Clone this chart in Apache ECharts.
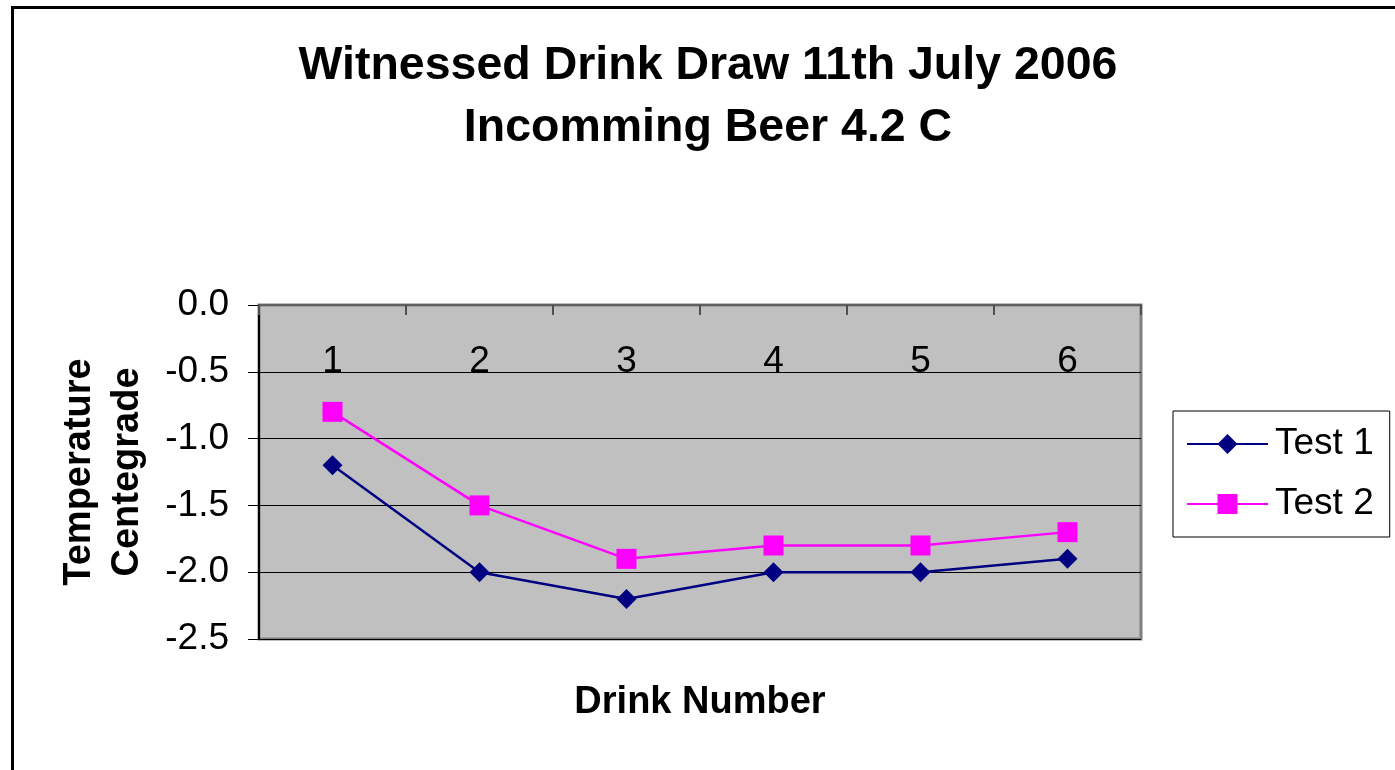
<!DOCTYPE html>
<html>
<head>
<meta charset="utf-8">
<title>Witnessed Drink Draw</title>
<script src="https://cdn.jsdelivr.net/npm/echarts@6/dist/echarts.min.js"></script>
<style>
  html, body { margin: 0; padding: 0; background: #fff; }
  #main { width: 1395px; height: 770px; }
</style>
</head>
<body>
<div id="main"></div>
<script>
// drink numbers along the top axis
var drinks = ['1', '2', '3', '4', '5', '6']
// temperatures, degrees C
var test1 = [-1.2, -2.0, -2.2, -2.0, -2.0, -1.9]
var test2 = [-0.8, -1.5, -1.9, -1.8, -1.8, -1.7]

var FONT = '"Liberation Sans", Arial, sans-serif'

var myChart = echarts.init(document.getElementById('main'))

var option = {
  backgroundColor: '#fff',
  animation: false,
  title: {
    text: 'Witnessed Drink Draw 11th July 2006\nIncomming Beer 4.2 C',
    left: 708,
    top: 35,
    padding: 0,
    textAlign: 'center',
    textStyle: {
      fontFamily: FONT,
      fontWeight: 'bold',
      fontSize: 46.5,
      lineHeight: 62,
      color: '#000'
    }
  },
  legend: {
    orient: 'vertical',
    left: 1173,
    top: 411,
    padding: [13, 16, 13, 13],
    borderColor: '#000',
    borderWidth: 1,
    itemWidth: 81,
    itemHeight: 25,
    itemGap: 20,
    textStyle: {
      fontFamily: FONT,
      fontSize: 37,
      lineHeight: 40,
      color: '#000',
      padding: [0, 0, 0, 2]
    },
    data: ['Test 1', 'Test 2']
  },
  grid: {
    left: 259,
    top: 305,
    width: 882,
    height: 334,
    show: true,
    backgroundColor: '#c0c0c0',
    borderColor: '#808080',
    borderWidth: 3
  },
  xAxis: {
    type: 'category',
    position: 'top',
    data: drinks,
    boundaryGap: true,
    axisLine: { show: true, lineStyle: { color: '#606060', width: 2 } },
    axisTick: { show: true, inside: true, length: 10, lineStyle: { color: '#505050', width: 2 } },
    axisLabel: {
      inside: true,
      margin: 38,
      fontFamily: FONT,
      fontSize: 37,
      color: '#000'
    },
    splitLine: { show: false }
  },
  yAxis: {
    type: 'value',
    min: -2.5,
    max: 0,
    interval: 0.5,
    name: 'Temperature\nCentegrade',
    nameLocation: 'middle',
    nameRotate: 90,
    nameGap: 107,
    nameTextStyle: {
      fontFamily: FONT,
      fontWeight: 'bold',
      fontSize: 38,
      lineHeight: 48,
      color: '#000'
    },
    axisLine: { show: true, lineStyle: { color: '#000', width: 2 } },
    axisTick: { show: true, length: 11, lineStyle: { color: '#000', width: 1 } },
    axisLabel: {
      margin: 30,
      fontFamily: FONT,
      fontSize: 37,
      color: '#000',
      formatter: function (v) { return v.toFixed(1) }
    },
    splitLine: { show: true, lineStyle: { color: '#000', width: 1 } }
  },
  graphic: [
    {
      type: 'rect',
      left: 10,
      top: 5,
      shape: { width: 1500, height: 900 },
      style: { fill: 'none', stroke: '#000', lineWidth: 3 },
      silent: true
    },
    {
      type: 'text',
      x: 700,
      y: 703,
      style: {
        text: 'Drink Number',
        fontFamily: FONT,
        fontWeight: 'bold',
        fontSize: 38,
        fill: '#000',
        align: 'center',
        verticalAlign: 'middle'
      }
    }
  ],
  series: [
    {
      name: 'Test 1',
      type: 'line',
      data: test1,
      symbol: 'diamond',
      symbolSize: 20,
      color: '#000080',
      lineStyle: { color: '#000080', width: 2.5 },
      itemStyle: { color: '#000080' }
    },
    {
      name: 'Test 2',
      type: 'line',
      data: test2,
      symbol: 'rect',
      symbolSize: 20,
      color: '#ff00ff',
      lineStyle: { color: '#ff00ff', width: 2.5 },
      itemStyle: { color: '#ff00ff' }
    }
  ]
}

myChart.setOption(option)
</script>
</body>
</html>
